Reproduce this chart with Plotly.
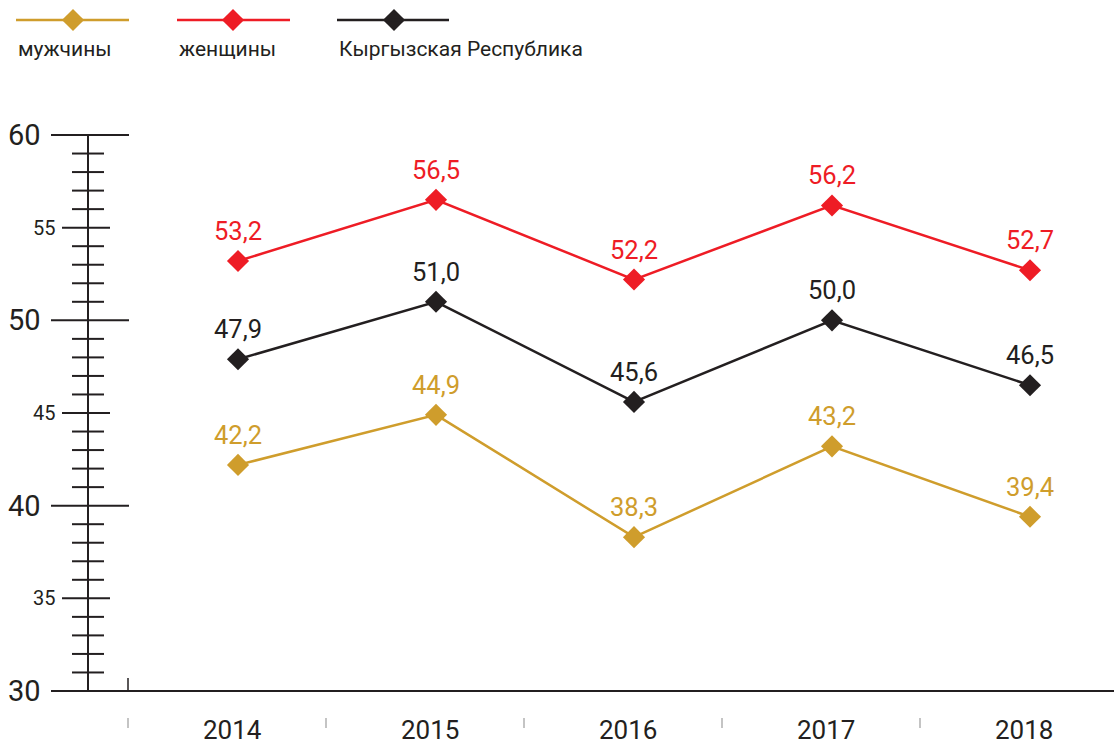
import plotly.graph_objects as go

# ---- data ----
years = [2014, 2015, 2016, 2017, 2018]
men = [42.2, 44.9, 38.3, 43.2, 39.4]
women = [53.2, 56.5, 52.2, 56.2, 52.7]
total = [47.9, 51.0, 45.6, 50.0, 46.5]
series_names = ["мужчины", "женщины", "Кыргызская Республика"]
series_colors = ["#CF9D2C", "#EE1C25", "#231F20"]
y_major = [30, 40, 50, 60]
y_mid = [35, 45, 55]
y_min, y_max = 30, 60

# ---- layout helpers (pixel geometry of the page) ----
W, H = 1114, 744
X_REF_PX, STEP_PX = 238, 198          # first year position, px per year
Y_TOP_PX, Y_BOT_PX = 135, 691         # y=60 and y=30 pixels
PPU = (Y_BOT_PX - Y_TOP_PX) / (y_max - y_min)


def px_x(px):
    return years[0] + (px - X_REF_PX) / STEP_PX


def px_y(py):
    return y_max - (py - Y_TOP_PX) / PPU


FONT = "Roboto"
AXIS_C = "#231F20"

fig = go.Figure()

data = [men, women, total]
for name, vals, col in zip(series_names, data, series_colors):
    fig.add_trace(go.Scatter(
        x=years, y=vals, mode="lines+markers", name=name,
        line=dict(color=col, width=2.5),
        marker=dict(symbol="diamond", size=17, color=col),
        showlegend=False, hoverinfo="skip",
    ))

shapes = []
annotations = []

# value labels
for vals, col in zip(data, series_colors):
    for yr, v in zip(years, vals):
        annotations.append(dict(
            x=yr, y=v, xref="x", yref="y", yshift=30,
            text=f"{v:.1f}".replace(".", ","), showarrow=False,
            xanchor="center", yanchor="middle",
            font=dict(family=FONT, size=25.5, color=col),
        ))

# y axis scaffold
line_style = dict(color=AXIS_C, width=2)
shapes.append(dict(type="line", xref="x", yref="y",
                   x0=px_x(88), x1=px_x(88), y0=y_min, y1=y_max, line=line_style))
for v in range(y_min, y_max + 1):
    if v in y_major:
        a, b = 51, 129
    elif v in y_mid:
        a, b = 62, 110
    else:
        a, b = 72, 104
    shapes.append(dict(type="line", xref="x", yref="y",
                       x0=px_x(a), x1=px_x(b), y0=v, y1=v, line=line_style))
for v in y_major:
    annotations.append(dict(x=px_x(43), y=v, xref="x", yref="y", text=str(v),
                            showarrow=False, xanchor="right", yanchor="middle",
                            font=dict(family=FONT, size=29, color=AXIS_C)))
for v in y_mid:
    annotations.append(dict(x=px_x(57), y=v, xref="x", yref="y", text=str(v),
                            showarrow=False, xanchor="right", yanchor="middle",
                            font=dict(family=FONT, size=20, color=AXIS_C)))

# bottom axis
shapes.append(dict(type="line", xref="x", yref="y",
                   x0=px_x(51), x1=px_x(W), y0=y_min, y1=y_min,
                   line=dict(color=AXIS_C, width=2)))
shapes.append(dict(type="line", xref="x", yref="y",
                   x0=px_x(128), x1=px_x(128), y0=y_min, y1=px_y(678),
                   line=dict(color=AXIS_C, width=1.5)))

# category separators and labels
for yr in years:
    xs = yr - 110 / STEP_PX
    shapes.append(dict(type="line", xref="x", yref="y",
                       x0=xs, x1=xs, y0=px_y(718), y1=px_y(728),
                       line=dict(color="#C4C4C4", width=2)))
    annotations.append(dict(x=yr, y=px_y(730), xref="x", yref="y", xshift=-6,
                            text=str(yr), showarrow=False,
                            xanchor="center", yanchor="middle",
                            font=dict(family=FONT, size=26, color=AXIS_C)))

# custom legend
legend_px = [(16, 129, 73), (177, 290, 233), (337, 449, 394)]
for (x0, x1, xc), name, col in zip(legend_px, series_names, series_colors):
    shapes.append(dict(type="line", xref="x", yref="y",
                       x0=px_x(x0), x1=px_x(x1), y0=px_y(20), y1=px_y(20),
                       line=dict(color=col, width=2.5)))
    fig.add_trace(go.Scatter(
        x=[px_x(xc)], y=[px_y(20)], mode="markers",
        marker=dict(symbol="diamond", size=17, color=col),
        showlegend=False, hoverinfo="skip",
    ))
    annotations.append(dict(x=px_x(x0), y=px_y(49), xref="x", yref="y",
                            text=name, showarrow=False,
                            xanchor="left", yanchor="middle",
                            font=dict(family=FONT, size=21, color=AXIS_C)))

fig.update_layout(
    width=W, height=H,
    margin=dict(l=0, r=0, t=0, b=0),
    paper_bgcolor="white", plot_bgcolor="white",
    xaxis=dict(range=[px_x(0), px_x(W)], visible=False, fixedrange=True),
    yaxis=dict(range=[px_y(H), px_y(0)], visible=False, fixedrange=True),
    shapes=shapes, annotations=annotations,
    hovermode=False,
)

fig.write_html(
    "out.html",
    config={"displayModeBar": False},
    post_script="document.body.style.margin='0';document.body.style.overflow='hidden';",
)
